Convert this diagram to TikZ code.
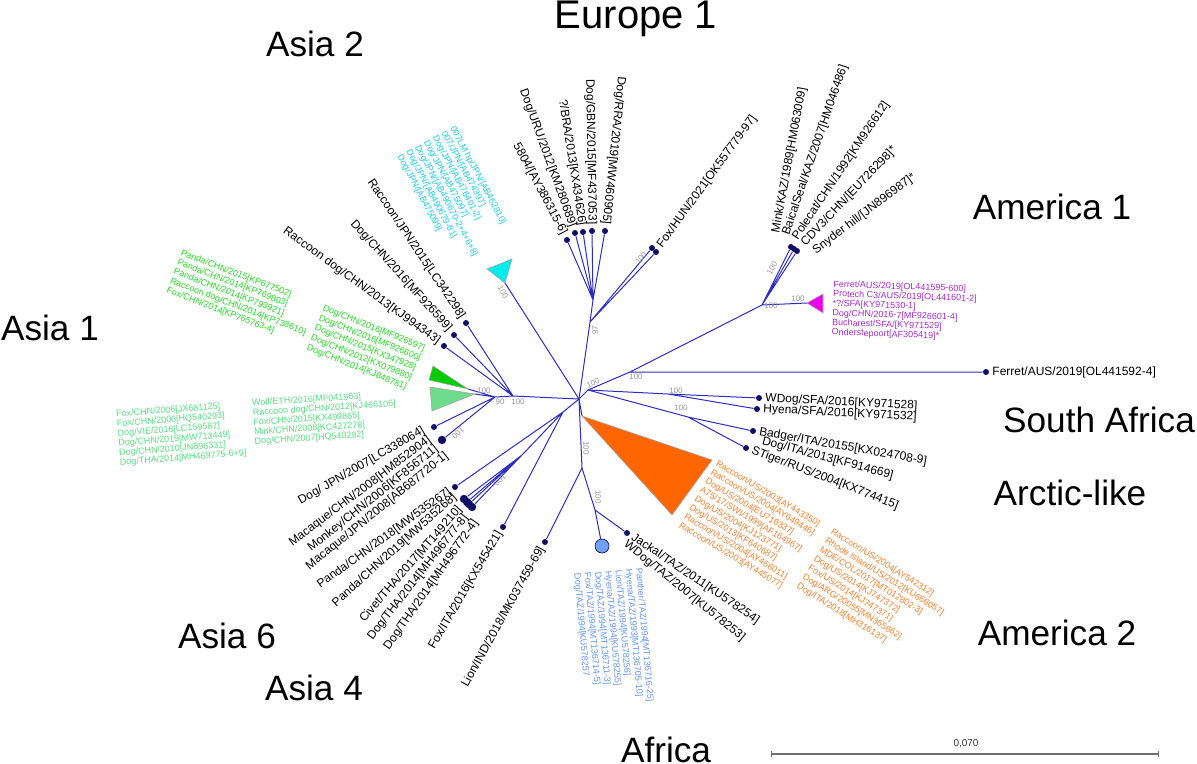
\documentclass[tikz,border=0pt]{standalone}
\usepackage{fontspec}
\setmainfont{Liberation Sans}
\usetikzlibrary{calc}
\definecolor{lineblue}{RGB}{45,45,190}
\definecolor{dotblue}{RGB}{15,15,100}
\definecolor{suppgray}{RGB}{150,150,150}
\definecolor{cyantxt}{RGB}{25,205,230}
\definecolor{cyanfill}{RGB}{0,235,235}
\definecolor{purpletxt}{RGB}{165,45,200}
\definecolor{purplefill}{RGB}{235,0,235}
\definecolor{orangetxt}{RGB}{240,130,50}
\definecolor{orangefill}{RGB}{255,102,0}
\definecolor{greentxt}{RGB}{40,215,40}
\definecolor{greenfill}{RGB}{0,205,0}
\definecolor{minttxt}{RGB}{90,220,130}
\definecolor{mintfill}{RGB}{110,220,140}
\definecolor{bluetxt}{RGB}{100,150,235}
\definecolor{bluefill}{RGB}{110,160,245}
\definecolor{scalegray}{RGB}{110,110,110}
\newcommand{\labgroup}[6]{%
  \foreach \txt [count=\k from 0] in {#6}
    \node[clab, text=#5, rotate=#4] (#1\k) at ($#2+\k*#3$) {\txt};%
}
\tikzset{
  branch/.style={draw=lineblue, line width=0.5pt},
  leaf/.style={circle, fill=dotblue, inner sep=0pt, minimum size=3pt},
  bigleaf/.style={circle, fill=dotblue, inner sep=0pt, minimum size=4.2pt},
  afrdot/.style={circle, fill=bluefill, draw=blue!45!black, line width=0.3pt, minimum size=7pt, inner sep=0pt},
  blab/.style={font=\fontsize{6}{7}\selectfont, inner sep=0pt},
  dlab/.style={font=\fontsize{6}{7}\selectfont, inner sep=3pt},
  clab/.style={font=\fontsize{4.5}{5}\selectfont, inner sep=0pt, anchor=base west},
  region/.style={font=\fontsize{17.6}{20}\selectfont, anchor=base, inner sep=0pt},
  supp/.style={font=\fontsize{4}{4.5}\selectfont, text=suppgray, inner sep=0pt},
  clade/.style={draw=gray!70, line width=0.3pt},
  scalebar/.style={draw=scalegray, line width=0.7pt},
}
\begin{document}
\begin{tikzpicture}[x=0.5pt,y=-0.5pt]
\useasboundingbox (0,0) rectangle (1197,764);

% ---------- internal nodes ----------
\coordinate (C) at (579,399);
\coordinate (NL1) at (513,396);
\coordinate (NL2) at (495,397);
\coordinate (NR) at (588,390);
\coordinate (NAm) at (630,372);
\coordinate (NAm1) at (762,305);
\coordinate (NSA1) at (668,394);
\coordinate (NSA2) at (688,417);
\coordinate (NEu) at (590,322);
\coordinate (NEc) at (593,300);
\coordinate (NB) at (563,412);
\coordinate (NC) at (522,455);
\coordinate (NA1) at (582,468);
\coordinate (NAf) at (595,510);

% ---------- collapsed clade corners ----------
\coordinate (cyA) at (505,283); \coordinate (cyB) at (487,269); \coordinate (cyC) at (512,259);
\coordinate (dgA) at (468,389); \coordinate (dgB) at (433,366); \coordinate (dgC) at (429,380);
\coordinate (lgA) at (475,394); \coordinate (lgB) at (430,387); \coordinate (lgC) at (432,411);
\coordinate (puA) at (807,303); \coordinate (puB) at (823,294); \coordinate (puC) at (823,313);
\coordinate (orA) at (582,416); \coordinate (orB) at (712,460); \coordinate (orC) at (672,515);

% ---------- leaf dots ----------
\node[leaf] (dRJ) at (466,323) {};
\node[leaf] (dDC) at (454,335) {};
\node[leaf] (dRD) at (444,346) {};
\node[leaf] (dE1) at (567,240) {};
\node[leaf] (dE2) at (575,233) {};
\node[leaf] (dE3) at (583,232) {};
\node[leaf] (dE4) at (592,231) {};
\node[leaf] (dE5) at (605,231) {};
\node[leaf] (dFH1) at (652,248) {};
\node[leaf] (dFH2) at (656,252) {};
\node[leaf] (dA1) at (791,247) {};
\node[leaf] (dA2) at (794,249) {};
\node[leaf] (dA3) at (797,251) {};
\node[leaf] (dFer) at (986,372) {};
\node[leaf] (dWD) at (759,398) {};
\node[leaf] (dHy) at (757,409) {};
\node[leaf] (dBa) at (753,431) {};
\node[leaf] (dST) at (746,448) {};
\node[leaf] (dJa) at (627,533) {};
\node[leaf] (dLi) at (545,542) {};
\node[leaf] (dFI) at (503,527) {};
\node[leaf] (dP18) at (455,487) {};
\node[bigleaf] (dc1) at (464,499) {};
\node[bigleaf] (dc2) at (467,502) {};
\node[bigleaf] (dc3) at (469,504) {};
\node[bigleaf] (dc4) at (472,507) {};
\node[leaf] (dDJ) at (434,427) {};
\node[bigleaf] (dMC) at (442,440) {};
\node[afrdot] (afr) at (602,546) {};

% ---------- branches ----------
\draw[branch] (C) -- (NL1) (NL1) -- (dRJ) (NL1) -- (dDC) (NL1) -- (dRD) (NL1) -- (NL2)
  (NL2) -- (dgA) (NL2) -- (lgA) (NL2) -- (dDJ) (NL2) -- (dMC);
\draw[branch] (C) -- (cyA);
\draw[branch] (C) -- (NEu) (NEu) -- (NEc) (NEc) -- (dE1) (NEc) -- (dE2) (NEc) -- (dE3)
  (NEc) -- (dE4) (NEc) -- (dE5) (NEu) -- (dFH1) (NEu) -- (dFH2);
\draw[branch] (C) -- (NR) (NR) -- (NAm) (NAm) -- (dFer) (NAm) -- (NAm1) (NAm1) -- (puA)
  (NAm1) -- (dA1) (NAm1) -- (dA2) (NAm1) -- (dA3);
\draw[branch] (NR) -- (NSA1) (NSA1) -- (dWD) (NSA1) -- (dHy) (NR) -- (NSA2) (NSA2) -- (dBa) (NSA2) -- (dST);
\draw[branch] (C) -- (orA);
\draw[branch] (C) -- (NA1) (NA1) -- (dLi) (NA1) -- (NAf) (NAf) -- (afr) (NAf) -- (dJa);
\draw[branch] (C) -- (NB) (NB) -- (dP18) (NB) -- (NC) (NB) -- (dFI)
  (NC) -- (dc1) (NC) -- (dc2) (NC) -- (dc3) (NC) -- (dc4);

% ---------- collapsed clades ----------
\filldraw[clade, fill=cyanfill] (cyA) -- (cyB) -- (cyC) -- cycle;
\filldraw[clade, fill=greenfill] (dgA) -- (dgB) -- (dgC) -- cycle;
\filldraw[clade, fill=mintfill] (lgA) -- (lgB) -- (lgC) -- cycle;
\filldraw[clade, fill=purplefill] (puA) -- (puB) -- (puC) -- cycle;
\filldraw[clade, fill=orangefill] (orA) -- (orB) -- (orC) -- cycle;

% ---------- support values ----------
\node[supp, rotate=-60] (s1) at (503,292) {100};
\node[supp] (s2) at (484,391) {100};
\node[supp] (s3) at (500,402) {90};
\node[supp] (s4) at (518,402) {100};
\node[supp, rotate=220] (s5) at (458,433) {100};
\node[supp, rotate=225] (s6) at (500,480) {100};
\node[supp, rotate=-90] (s7) at (586,448) {100};
\node[supp, rotate=-90] (s8) at (598,497) {100};
\node[supp, rotate=25] (s9) at (593,383) {100};
\node[supp] (s10) at (636,377) {100};
\node[supp, rotate=-3] (s11) at (676,391) {100};
\node[supp, rotate=-3] (s12) at (681,408) {100};
\node[supp] (s13) at (771,306) {100};
\node[supp] (s14) at (798,299) {100};
\node[supp, rotate=60] (s15) at (772,268) {100};
\node[supp, rotate=50] (s16) at (641,258) {100};
\node[supp, rotate=90] (s17) at (595,330) {97};

% ---------- black leaf labels ----------
\node[dlab, anchor=east, rotate=-56] (tRJ) at (dRJ.center) {Raccoon/JPN/2015[LC342298]};
\node[dlab, anchor=east, rotate=-48] (tDC) at (dDC.center) {Dog/CHN/2016[MF926599]};
\node[dlab, anchor=east, rotate=-36] (tRD) at (dRD.center) {Raccoon dog/CHN/2013[KJ994343]};
\node[dlab, anchor=east, rotate=-62] (tE1) at (dE1.center) {5804/[AY386315-6]};
\node[dlab, anchor=east, rotate=-70] (tE2) at (dE2.center) {Dog/URU/2012[KM280689]};
\node[dlab, anchor=east, rotate=-81] (tE3) at (dE3.center) {?/BRA/2013[KX434626]};
\node[dlab, anchor=east, rotate=-89] (tE4) at (dE4.center) {Dog/GBN/2015[MF437053]};
\node[dlab, anchor=east, rotate=-96] (tE5) at (dE5.center) {Dog/RRA/2019[MW460905]};
\node[dlab, anchor=west, rotate=54] (tFH) at (dFH2.center) {Fox/HUN/2021[OK557779-97]};
\node[blab, anchor=west, rotate=79.5] (tA1) at (776,233) {Mink/KAZ/1989[HM063009]};
\node[blab, anchor=west, rotate=71] (tA2) at (786,235) {BaicalSeal/KAZ/2007[HM046486]};
\node[blab, anchor=west, rotate=56] (tA3) at (795,239) {Polecat/CHN/1992[KM926612]};
\node[blab, anchor=west, rotate=46.5] (tA4) at (803,245) {CDV3/CHN/[EU726298]*};
\node[blab, anchor=west, rotate=37] (tA5) at (814,252) {Snyder hill/[JN896987]*};
\node[dlab, anchor=west] (tFer) at (dFer.center) {Ferret/AUS/2019[OL441592-4]};
\node[dlab, anchor=west, rotate=-3] (tWD) at (dWD.center) {WDog/SFA/2016[KY971528]};
\node[dlab, anchor=west, rotate=-3] (tHy) at (dHy.center) {Hyena/SFA/2016[KY971532]};
\node[dlab, anchor=west, rotate=-10] (tBa) at (dBa.center) {Badger/ITA/20155[KX024708-9]};
\node[blab, anchor=west, rotate=-15] (tDI) at (762,441) {Dog/ITA/2013[KF914669]};
\node[dlab, anchor=west, rotate=-21] (tST) at (dST.center) {STiger/RUS/2004[KX774415]};
\node[dlab, anchor=west, rotate=-34] (tJa) at (dJa.center) {Jackal/TAZ/2011[KU578254]};
\node[blab, anchor=west, rotate=-39] (tWT) at (625,543) {WDog/TAZ/2007[KU578253]};
\node[blab, anchor=east, rotate=30] (tDJ) at (424,430) {Dog/ JPN/2007[LC338064]};
\node[blab, anchor=east, rotate=37] (tM1) at (430,439) {Macaque/CHN/2008[HM852904]};
\node[blab, anchor=east, rotate=38.5] (tM2) at (437,448) {Monkey/CHN/2006[KF856711]};
\node[blab, anchor=east, rotate=39] (tM3) at (447,455) {Macaque/JPN/2008[AB687720-1]};
\node[dlab, anchor=east, rotate=36] (tP18) at (dP18.center) {Panda/CHN/2018[MW535267]};
\node[blab, anchor=east, rotate=42] (tP19) at (455,496) {Panda/CHN/2019[MW535268]};
\node[blab, anchor=east, rotate=49] (tCi) at (460,508) {Civet/THA/2017[MT149210]};
\node[blab, anchor=east, rotate=52] (tDT1) at (466,516) {Dog/THA/2014[MH496777-8]};
\node[blab, anchor=east, rotate=55] (tDT2) at (476,521) {Dog/THA/2014[MH496772-4]};
\node[dlab, anchor=east, rotate=59.5] (tFI) at (dFI.center) {Fox/ITA/2016[KX545421]};
\node[dlab, anchor=east, rotate=61] (tLi) at (dLi.center) {Lion/IND/2018/MK037459-69]};

% ---------- coloured clade labels ----------
\labgroup{cy}{(450,128)}{(-8.83,4.69)}{-62}{cyantxt}{{007LM hp/JPN/[AB462810]},{007/JPN/[AB474397]},{Dog/JPN/[AB476401-2]},{Dog/JPN/[AB475097]},{Dog/JPN/[AB490670-2+4+6+8]},{Dog/JPN/[AB490679-81]},{Dog/JPN/[AB475099]}}
\labgroup{ga}{(180,255)}{(-3.58,9.34)}{-21}{greentxt}{{Panda/CHN/2015[KP677502]},{Panda/CHN/2014[KP769803]},{Panda/CHN/2014[KP793921]},{Raccoon dog/CHN/2014[KP738610]},{Fox/CHN/2014[KP765763-4]}}
\labgroup{gb}{(322,310)}{(-4.0,9.92)}{-22}{greentxt}{{Dog/CHN/2016[MF926597]},{Dog/CHN/2016[MF926600]},{Dog/CHN/2015[KX347928]},{Dog/CHN/2012[KX079880]},{Dog/CHN/2014[KJ848781]}}
\labgroup{gc}{(116,417)}{(0.74,9.67)}{4.4}{minttxt}{{Fox/CHN/2006[JX681125]},{Fox/CHN/2006[HQ540293]},{Dog/VIE/2016[LC159587]},{Dog/CHN/2019[MW713449]},{Dog/CHN/2010[JN896331]},{Dog/THA/2014[MH469775-6+9]}}
\labgroup{gd}{(252,406)}{(0.62,9.58)}{3.7}{minttxt}{{Wolf/ETH/2016[MF041963]},{Raccoon dog/CHN/2012[KJ466106]},{Fox/CHN/2015[KX499865]},{Mink/CHN/2008[KC427278]},{Dog/CHN/2007[HQ540292]}}
\labgroup{pu}{(833,287)}{(-0.335,9.59)}{-2}{purpletxt}{{Ferret/AUS/2019[OL441595-600]},{Protech C3/AUS/2019[OL441601-2]},{*?/SFA[KY971530-1]},{Dog/CHN/2016-7[MF926601-4]},{Bucharest/SFA/[KY971529]},{Onderstepoort[AF305419]*}}
\labgroup{oa}{(715,465)}{(-5.30,8.83)}{-31}{orangetxt}{{Raccoon/US/2003[AY443350]},{Raccoon/US/2004[AY649446]},{Dog/US/2004[EU716337]},{A75/17/SWI/1999[AF164967]},{Dog/US/2004[KJ123771]},{Dog/US/2013[KF640687]},{Raccoon/US/2004[AY466011]},{Raccoon/US/2003[AY445077]}}
\labgroup{ob}{(830,533)}{(-5.67,9.07)}{-32}{orangetxt}{{Raccoon/US/2004[AY542312]},{Rhode Island/US/2012[KU666057]},{MDE/COL/2017[MT012802-3]},{Dog/US/2014[KJ747372]},{Fox/US/2014[KJ747371]},{Dog/ARG/20055[MN365662]},{Dog/ITA/2018[MH316137]}}
\labgroup{bl}{(636,568)}{(-10.26,0.90)}{-85}{bluetxt}{{Panther/TAZ/1994[MT136716-25]},{Hyena/TAZ/1993[MT136705-10]},{Lion/TAZ/1994[KU578256]},{Hyena/TAZ/1994[KU578255]},{Dog/TAZ/1994[MT136711-3]},{Fox/TAZ/1994[MT136714-5]},{Dog/TAZ/1994[KU578257}}

% ---------- region names ----------
\node[region, font=\fontsize{20}{22}\selectfont] (rEu) at (636,29) {Europe 1};
\node[region] (rA2) at (315,57) {Asia 2};
\node[region] (rAm1) at (1052,220) {America 1};
\node[region] (rA1) at (50,340) {Asia 1};
\node[region] (rSA) at (1099,432) {South Africa};
\node[region] (rAL) at (1070,505) {Arctic-like};
\node[region] (rAm2) at (1057,645) {America 2};
\node[region] (rA6) at (227,648) {Asia 6};
\node[region] (rA4) at (314,700) {Asia 4};
\node[region] (rAf) at (666,762) {Africa};

% ---------- scale bar ----------
\coordinate (sbL) at (771,754);
\coordinate (sbR) at (1158,754);
\draw[scalebar] (sbL) -- (sbR);
\draw[scalebar, line width=0.4pt] ($(sbL)+(0,-3)$) -- ($(sbL)+(0,3)$) ($(sbR)+(0,-3)$) -- ($(sbR)+(0,3)$);
\node[font=\fontsize{5}{6}\selectfont, text=black!80, anchor=base, inner sep=0pt] (sbT) at (966,746) {0,070};
\end{tikzpicture}
\end{document}
